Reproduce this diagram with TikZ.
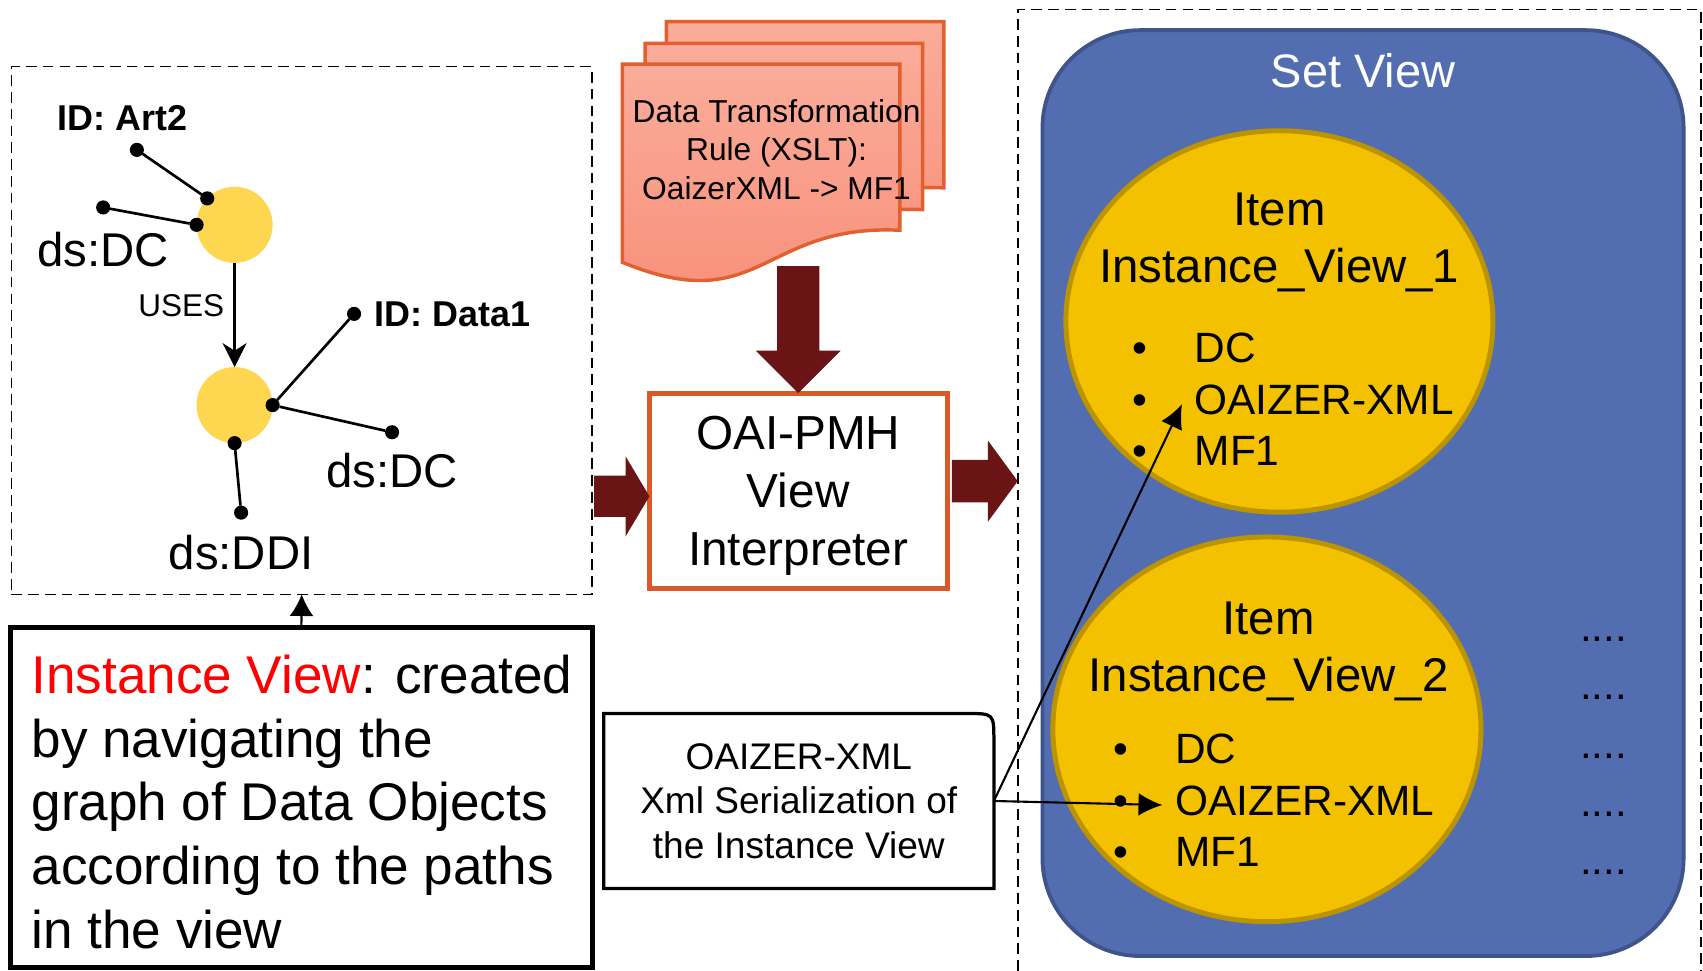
\documentclass[tikz,border=0pt]{standalone}
\usepackage{fontspec}
\setmainfont{Liberation Sans}
\usetikzlibrary{positioning}
\usetikzlibrary{arrows,arrows.meta}
\usetikzlibrary{shapes.geometric,calc}
\definecolor{objyellow}{RGB}{255,214,79}
\definecolor{itemgold}{RGB}{243,193,0}
\definecolor{itemrim}{RGB}{188,148,0}
\definecolor{setblue}{RGB}{82,110,176}
\definecolor{setrim}{RGB}{64,84,140}
\definecolor{maroon}{RGB}{106,20,22}
\definecolor{docfilltop}{RGB}{250,172,154}
\definecolor{docfillbot}{RGB}{248,142,120}
\definecolor{docrim}{RGB}{226,96,48}
\definecolor{oairim}{RGB}{218,88,42}
\definecolor{ivred}{RGB}{255,0,0}

\begin{document}
\begin{tikzpicture}[x=0.01cm,y=-0.01cm,every node/.style={outer sep=0pt},
 obj/.style={circle,fill=objyellow,inner sep=0pt,minimum size=0.7cm},
 dot/.style={circle,fill,inner sep=0pt,minimum size=0.13cm},
 link/.style={line width=0.7pt},
 lbl/.style={inner sep=0pt,font=\fontsize{12.4}{14}\selectfont},
 idlbl/.style={inner sep=0pt,font=\bfseries\fontsize{9.4}{11}\selectfont},
 useslbl/.style={inner sep=0pt,font=\fontsize{8.25}{10}\selectfont},
 usesarrow/.style={line width=0.7pt,-{Stealth[length=0.22cm,width=0.22cm,inset=0.07cm]}},
 dashbox/.style={draw,line width=0.35pt,dash pattern=on 2.8pt off 1.6pt},
 infobox/.style={draw,line width=1.3pt},
 infotxt/.style={align=left,inner sep=0pt,font=\fontsize{13.9}{16.7}\selectfont},
 uparrow/.style={line width=0.55pt,-{Latex[length=0.2cm,width=0.22cm]}},
 docline/.style={draw=docrim,line width=0.9pt,top color=docfilltop,bottom color=docfillbot},
 docpic/.pic={\path[docline] (0,0) -- (255.5,0) -- (255.5,153)
   .. controls (127.75,147) and (127.75,235) .. (0,182.5) -- cycle;},
 doctxt/.style={align=center,text depth=0pt,inner sep=0pt,font=\fontsize{8.3}{10.1}\selectfont},
 bigarrow/.style={fill=maroon},
 oaibox/.style={draw=oairim,line width=1.3pt,fill=white,align=center,text depth=0pt,
   minimum width=2.74cm,minimum height=1.8cm,font=\fontsize{12.5}{15.1}\selectfont},
 xmltxt/.style={align=center,text depth=0pt,minimum width=3.59cm,minimum height=1.61cm,
   font=\fontsize{9.7}{11.7}\selectfont},
 xmlrim/.style={line width=0.85pt},
 setbox/.style={draw=setrim,fill=setblue,line width=1pt,rounded corners=0.9cm,
   minimum width=5.9cm,minimum height=8.52cm},
 setlbl/.style={inner sep=0pt,text=white,font=\fontsize{12.3}{14}\selectfont},
 itemell/.style={ellipse,draw=itemrim,fill=itemgold,line width=1.3pt,inner sep=0pt},
 ttl/.style={align=center,text depth=0pt,inner sep=0pt,font=\fontsize{12.4}{15.1}\selectfont},
 entry/.style={inner sep=3.33pt,font=\fontsize{11.1}{13}\selectfont},
 more/.style={inner sep=0pt,font=\fontsize{11}{13}\selectfont},
 ptr/.style={line width=0.55pt,-{Latex[length=0.22cm,width=0.21cm]}}]

 \path[use as bounding box,fill=white] (0,0) rectangle (1568,894);

 % dashed frames
 \node[dashbox,minimum width=5.344cm,minimum height=4.854cm] (gb) at (277.8,304.3) {};
 \node[dashbox,minimum width=6.286cm,minimum height=9.3cm] (sb) at (1251.7,474.2) {};

 % graph of data objects
 \node[obj] (o1) at (216,207) {};
 \node[obj] (o2) at (216,373) {};
 \node[dot] (r1) at (o1.136) {};
 \node[dot] (r2) at (o1.180) {};
 \node[dot] (rid) at (126,138) {};
 \node[dot] (rdc) at (95,191) {};
 \node[dot] (d1) at (o2.0) {};
 \node[dot] (d2) at (o2.270) {};
 \node[dot] (did) at (326,289) {};
 \node[dot] (ddc) at (361,398) {};
 \node[dot] (dddi) at (222,472) {};
 \draw[link] (r1) -- (rid);
 \draw[link] (r2) -- (rdc);
 \draw[link] (d1) -- (did);
 \draw[link] (d1) -- (ddc);
 \draw[link] (d2) -- (dddi);
 \node[idlbl,above=1.15mm of rid,xshift=-1.3mm] (ridl) {ID: Art2};
 \node[lbl,below=1.6mm of rdc] (rdcl) {ds:DC};
 \node[idlbl,right=1.25mm of did] (didl) {ID: Data1};
 \node[lbl,below=1.3mm of ddc] (ddcl) {ds:DC};
 \node[lbl,below=1.4mm of dddi] (dddil) {ds:DDI};
 \draw[usesarrow] (o1) -- (o2) node[useslbl,pos=0.41,left=0.95mm] (uses) {USES};

 % transformation rules
 \foreach \px/\py in {613.5/20,594/40,573/59}
   \pic at (\px,\py) {docpic};
 \node[doctxt] (rule) at (715,137.5) {Data Transformation\\Rule (XSLT):\\OaizerXML -> MF1};

 \node[oaibox] (oai) at (735,452) {OAI-PMH\\View\\Interpreter};
 \fill[bigarrow] (oai.north) -- ++(-39,-39) -- ++(19.5,0) -- ++(0,-78) -- ++(39,0)
   -- ++(0,78) -- ++(19.5,0) -- cycle;
 \fill[bigarrow] ($(oai.west)+(0,5)$) -- ++(-22,-37) -- ++(0,18) -- ++(-29,0)
   -- ++(0,38) -- ++(29,0) -- ++(0,18) -- cycle;
 \fill[bigarrow] (937,443) -- ++(-27.5,-37.5) -- ++(0,18) -- ++(-33,0)
   -- ++(0,39) -- ++(33,0) -- ++(0,18) -- cycle;

 % instance view note
 \node[infobox,minimum width=5.35cm,minimum height=3.13cm] (iv) at (277.5,734.5) {};
 \node[infotxt,anchor=north west] (ivt) at (29,603)
   {\textcolor{ivred}{Instance View}: created\\by navigating the\\graph of Data Objects\\according to the paths\\in the view};
 \draw[uparrow] (iv.north) -- (gb.south);

 \node[xmltxt] (xb) at (735.5,737.5) {OAIZER-XML\\Xml Serialization of\\the Instance View};
 \draw[xmlrim] (xb.south west) -- (xb.north west) -- ([xshift=-0.25cm]xb.north east)
   .. controls (xb.north east) .. ([yshift=-0.25cm]xb.north east) -- (xb.south east) -- cycle;

 % set view
 \node[setbox] (sv) at (1255,454) {};
 \node[setlbl,below=0.21cm of sv.north] (svl) {Set View};
 \node[itemell,minimum width=3.93cm,minimum height=3.51cm] (el1) at (1178,296) {};
 \node[itemell,minimum width=3.94cm,minimum height=3.54cm] (el2) at (1166.5,671.5) {};
 \node[ttl] (t1) at (1178,219) {Item\\Instance\_View\_1};
 \node[ttl] (t2) at (1168,595.3) {Item\\Instance\_View\_2};
 \foreach \e/\bx/\by in {1/1050/334,2/1032/703}
 {\foreach \t [count=\i] in {DC,OAIZER-XML,MF1}
  {\node[entry,inner sep=0pt,anchor=base] (b\e\i) at (\bx,\by+47.5*\i-47.5) {\textbullet};
   \node[entry,anchor=base west] (p\e\i) at (\bx+38.3,\by+47.5*\i-47.5) {\t};
  }
 }
 \foreach \i in {0,...,4}
   \node[more,anchor=base] (more\i) at (1476.5,591+53.5*\i) {....};

 \draw[ptr] (xb.east) -- (p12.mid west);
 \draw[ptr] (xb.east) -- (p22.mid west);

\end{tikzpicture}
\end{document}
